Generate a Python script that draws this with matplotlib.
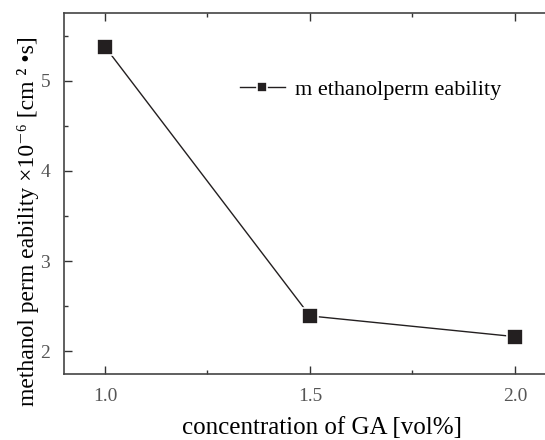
import matplotlib
matplotlib.use("Agg")
import matplotlib.pyplot as plt
from matplotlib.ticker import MultipleLocator

# data
ga_conc = [1.0, 1.5, 2.0]
permeability = [5.38, 2.39, 2.16]
x_ticks = [1.0, 1.5, 2.0]
x_tick_labels = ["1.0", "1.5", "2.0"]
y_ticks = [2, 3, 4, 5]

plt.rcParams['font.family'] = ['Liberation Serif', 'DejaVu Serif']

fig = plt.figure(figsize=(5.45, 4.4), dpi=100)
ax = fig.add_axes([64 / 545, 1 - 374 / 440, 492 / 545, (374 - 13) / 440])

ax.plot(ga_conc, permeability, color='#231f20', lw=1.0, marker='s', ms=12,
        mfc='#231f20', mec='white', mew=1.2, label='m ethanolperm eability')

ax.set_xlim(0.9, 2.1)
ax.set_ylim(1.745, 5.755)
ax.set_xticks(x_ticks)
ax.set_xticklabels(x_tick_labels)
ax.set_yticks(y_ticks)
ax.xaxis.set_minor_locator(MultipleLocator(0.25))
ax.yaxis.set_minor_locator(MultipleLocator(0.5))
ax.tick_params(which='both', direction='in', top=True, right=True,
               labelsize=14, colors='#333333', labelcolor='#555555', width=1)
ax.tick_params(which='major', length=6, pad=10)
ax.tick_params(which='minor', length=3)
for s in ax.spines.values():
    s.set_color('#444444')
    s.set_linewidth(1.2)

ax.set_xlabel('concentration of GA [vol%]', fontsize=18)
ax.set_ylabel('methanol perm eability ×10⁻⁶ [cm ² •s]', fontsize=17)
ax.xaxis.set_label_coords(0.524, -0.15)
ax.yaxis.set_label_coords(-0.073, 0.424)
ax.xaxis.label.set_va('center')
ax.yaxis.label.set_va('center')

ax.legend(loc='center left', bbox_to_anchor=(0.358, 0.787), frameon=False,
          fontsize=16, handlelength=2.0, handletextpad=0.45,
          borderpad=0, borderaxespad=0, markerscale=0.6)

fig.savefig('out.png', dpi=100)
